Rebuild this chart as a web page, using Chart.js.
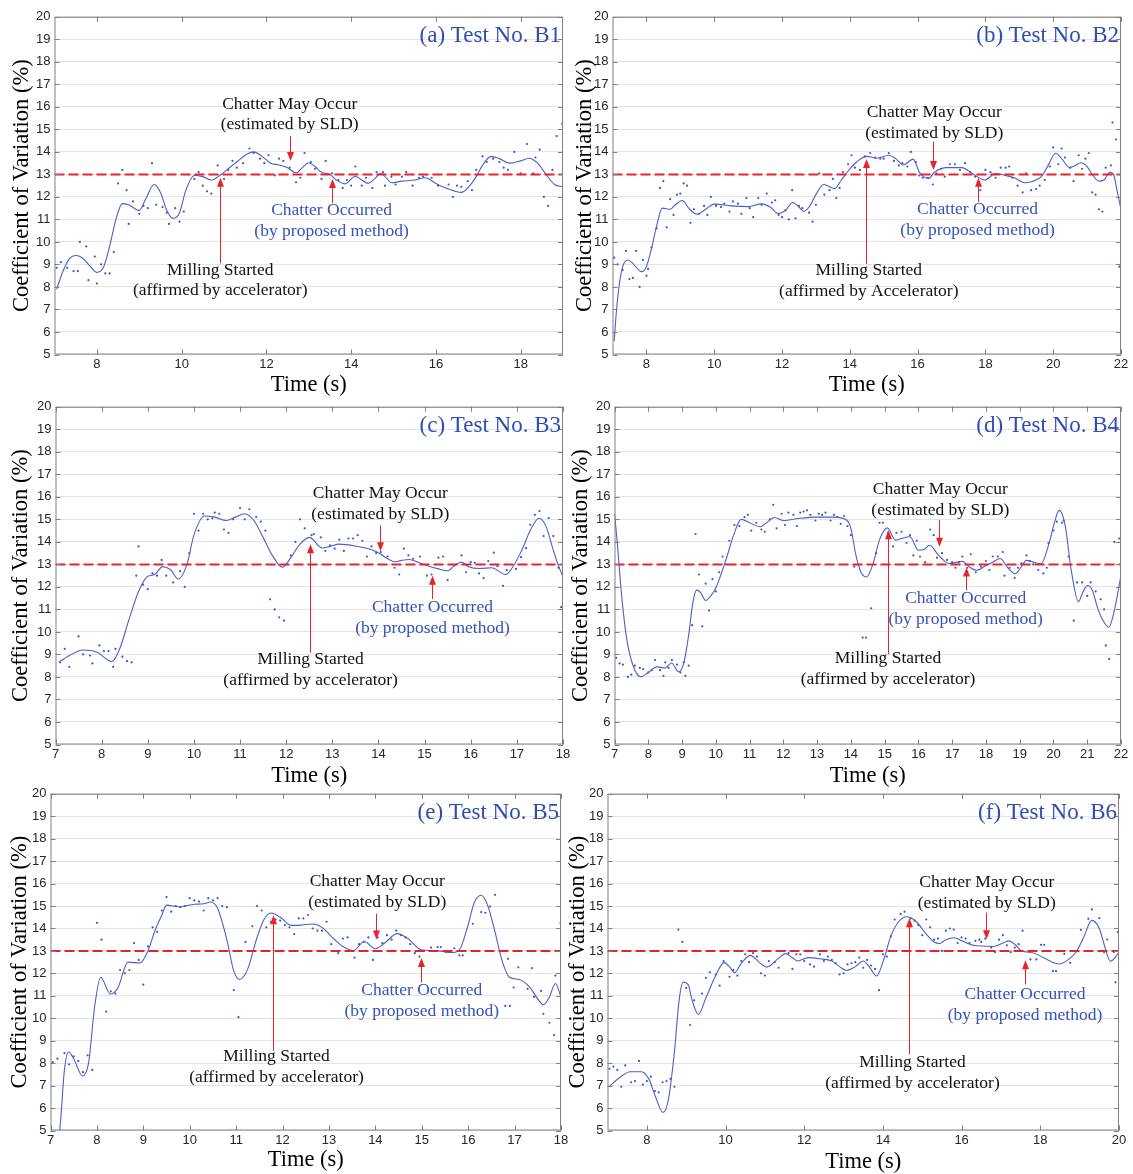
<!DOCTYPE html>
<html>
<head>
<meta charset="utf-8">
<script src="https://cdn.jsdelivr.net/npm/chart.js@4.4.1/dist/chart.umd.min.js"></script>
<style>
  html, body { margin: 0; padding: 0; background: #fff; }
  #page { position: relative; width: 1133px; height: 1174px; overflow: hidden; }
  .panel { position: absolute; }
</style>
</head>
<body>
<div id="page"></div>
<script>
// ---------------- data ----------------
const yTicks = [5, 6, 7, 8, 9, 10, 11, 12, 13, 14, 15, 16, 17, 18, 19, 20];
const threshold = 13;

const xTicksB1 = [8, 10, 12, 14, 16, 18];
const xTicksB2 = [8, 10, 12, 14, 16, 18, 20, 22];
const xTicksB3 = [7, 8, 9, 10, 11, 12, 13, 14, 15, 16, 17, 18];
const xTicksB4 = [7, 8, 9, 10, 11, 12, 13, 14, 15, 16, 17, 18, 19, 20, 21, 22];
const xTicksB5 = [7, 8, 9, 10, 11, 12, 13, 14, 15, 16, 17, 18];
const xTicksB6 = [8, 10, 12, 14, 16, 18, 20];

// smoothed curves [time, cv]
const curveB1 = [[7.05,7.9],[7.2,8.7],[7.35,9.25],[7.5,9.4],[7.65,9.3],[7.85,8.9],[8.0,8.65],[8.15,8.85],[8.3,9.8],[8.45,11.0],[8.6,11.7],[8.75,11.65],[9.0,11.4],[9.15,11.9],[9.35,12.55],[9.5,12.2],[9.65,11.4],[9.8,11.05],[9.95,11.3],[10.1,12.3],[10.3,12.95],[10.5,12.9],[10.7,12.75],[10.9,12.95],[11.1,13.25],[11.3,13.55],[11.5,13.85],[11.7,14.0],[11.9,13.8],[12.1,13.5],[12.3,13.42],[12.5,13.3],[12.7,13.07],[12.85,13.3],[13.0,13.52],[13.15,13.35],[13.3,13.1],[13.5,13.0],[13.65,12.75],[13.85,12.58],[14.1,12.92],[14.25,12.75],[14.4,12.6],[14.55,12.8],[14.7,13.04],[14.85,12.8],[14.95,12.63],[15.2,12.7],[15.5,12.75],[15.75,12.85],[16.0,12.6],[16.3,12.35],[16.6,12.2],[16.8,12.5],[16.95,12.9],[17.1,13.4],[17.3,13.8],[17.5,13.7],[17.75,13.5],[18.0,13.6],[18.2,13.72],[18.4,13.5],[18.6,13.0],[18.8,12.55],[19.0,12.45]];
const curveB2 = [[7.05,5.6],[7.12,7.0],[7.2,8.1],[7.3,8.9],[7.45,9.2],[7.6,9.05],[7.85,8.68],[8.0,8.9],[8.15,9.7],[8.3,10.7],[8.47,11.5],[8.7,11.45],[8.85,11.65],[9.06,11.84],[9.25,11.5],[9.49,11.23],[9.75,11.45],[10.0,11.68],[10.5,11.6],[11.0,11.57],[11.4,11.69],[11.65,11.55],[11.89,11.26],[12.1,11.4],[12.32,11.75],[12.5,11.55],[12.64,11.36],[12.8,11.55],[13.0,12.1],[13.23,12.55],[13.4,12.45],[13.55,12.37],[13.75,12.75],[13.95,13.15],[14.2,13.55],[14.5,13.8],[14.8,13.72],[15.15,13.85],[15.35,13.7],[15.58,13.42],[15.87,13.68],[16.05,13.1],[16.17,12.9],[16.33,12.82],[16.5,13.1],[16.86,13.3],[17.3,13.3],[17.66,13.0],[17.98,12.75],[18.3,13.04],[18.6,12.95],[18.85,12.85],[19.16,12.63],[19.4,12.7],[19.65,12.9],[19.85,13.4],[20.07,13.94],[20.25,13.7],[20.49,13.3],[20.65,13.4],[20.81,13.52],[21.0,13.35],[21.15,13.0],[21.35,12.7],[21.5,12.75],[21.67,13.09],[21.78,13.0],[21.88,12.3],[22.0,11.45]];
const curveB3 = [[7.08,8.67],[7.3,8.95],[7.59,9.2],[7.9,9.1],[8.22,8.68],[8.4,9.3],[8.6,10.6],[8.8,11.8],[9.0,12.47],[9.15,12.55],[9.32,12.9],[9.5,12.75],[9.66,12.35],[9.85,13.0],[10.0,14.3],[10.23,15.15],[10.45,15.1],[10.7,14.95],[10.9,15.1],[11.1,15.25],[11.3,14.95],[11.5,14.2],[11.7,13.4],[11.92,12.87],[12.1,13.3],[12.3,13.9],[12.5,14.2],[12.78,13.73],[12.95,13.8],[13.14,13.9],[13.5,13.82],[13.85,13.65],[14.04,13.47],[14.2,13.25],[14.36,13.12],[14.5,13.18],[14.67,13.22],[14.85,13.1],[15.05,12.95],[15.3,12.8],[15.5,12.72],[15.65,12.95],[15.8,13.1],[15.95,12.9],[16.2,12.82],[16.45,12.85],[16.76,12.55],[16.9,12.85],[17.1,13.6],[17.3,14.55],[17.48,15.05],[17.63,14.7],[17.78,13.7],[17.9,12.95],[18.0,12.45]];
const curveB4 = [[7.0,15.27],[7.08,14.0],[7.2,11.8],[7.35,9.8],[7.55,8.5],[7.78,8.01],[8.0,8.2],[8.26,8.45],[8.5,8.4],[8.69,8.62],[8.9,8.23],[9.05,8.6],[9.2,9.9],[9.32,11.3],[9.44,11.87],[9.55,11.75],[9.7,11.4],[9.85,11.6],[10.0,11.95],[10.3,13.2],[10.55,14.4],[10.75,15.0],[11.0,14.85],[11.31,14.67],[11.5,14.85],[11.74,15.08],[12.0,14.95],[12.5,15.05],[13.0,15.1],[13.5,15.1],[13.87,14.97],[14.0,14.6],[14.15,13.4],[14.3,12.65],[14.46,12.44],[14.65,13.0],[14.85,14.1],[15.08,14.62],[15.32,14.08],[15.5,14.15],[15.75,14.23],[16.0,13.63],[16.15,13.65],[16.33,13.85],[16.6,13.4],[16.92,13.04],[17.1,13.08],[17.3,13.14],[17.5,12.9],[17.72,12.74],[18.0,12.95],[18.2,13.1],[18.42,13.26],[18.65,12.85],[18.87,12.58],[19.05,12.9],[19.2,13.18],[19.4,13.1],[19.63,13.03],[19.88,13.99],[20.0,14.7],[20.17,15.4],[20.35,14.7],[20.52,12.8],[20.74,11.35],[20.88,11.8],[21.01,12.06],[21.15,11.85],[21.3,11.1],[21.45,10.55],[21.64,10.21],[21.78,10.8],[22.0,12.5]];
const curveB5 = [[7.15,4.0],[7.22,5.5],[7.3,7.7],[7.39,8.5],[7.5,8.2],[7.69,7.43],[7.82,8.0],[7.95,10.5],[8.08,11.83],[8.29,11.08],[8.45,11.35],[8.67,12.5],[8.93,12.46],[9.1,13.0],[9.25,13.9],[9.4,14.6],[9.5,15.04],[9.75,14.97],[10.1,15.08],[10.3,15.1],[10.45,15.18],[10.6,14.9],[10.8,13.5],[10.95,12.1],[11.08,11.73],[11.25,12.2],[11.45,13.6],[11.6,14.4],[11.75,14.69],[11.95,14.5],[12.19,14.14],[12.4,14.15],[12.65,14.2],[12.85,14.05],[13.05,13.65],[13.3,13.2],[13.53,13.02],[13.76,13.42],[14.0,13.1],[14.2,13.35],[14.47,13.77],[14.7,13.55],[14.99,13.05],[15.2,13.02],[15.45,12.98],[15.63,12.93],[15.81,13.05],[15.99,14.1],[16.13,15.15],[16.28,15.48],[16.42,15.03],[16.56,13.99],[16.74,12.5],[16.89,11.83],[17.1,11.73],[17.32,11.4],[17.5,10.86],[17.62,10.6],[17.75,10.95],[17.88,11.55],[18.0,10.95]];
const curveB6 = [[7.05,6.97],[7.3,7.35],[7.58,7.62],[7.86,7.62],[8.05,7.3],[8.2,6.6],[8.41,5.8],[8.55,6.4],[8.7,8.5],[8.82,10.8],[8.92,11.61],[9.05,11.5],[9.15,10.8],[9.31,10.17],[9.5,10.9],[9.75,11.9],[9.96,12.48],[10.1,12.3],[10.23,12.03],[10.4,12.45],[10.63,12.8],[10.85,12.5],[11.05,12.28],[11.3,12.6],[11.53,12.88],[11.7,12.7],[11.83,12.55],[12.1,12.7],[12.4,12.65],[12.7,12.55],[12.9,12.3],[13.08,12.13],[13.3,12.3],[13.5,12.55],[13.65,12.3],[13.84,11.88],[14.0,12.5],[14.2,13.65],[14.4,14.3],[14.61,14.52],[14.85,14.3],[15.1,13.75],[15.3,13.4],[15.44,13.33],[15.6,13.5],[15.81,13.59],[16.0,13.45],[16.3,13.25],[16.8,13.2],[17.05,13.35],[17.2,13.45],[17.35,13.3],[17.51,13.02],[17.85,12.9],[18.1,12.68],[18.3,12.5],[18.49,12.42],[18.7,12.6],[18.91,12.95],[19.1,13.6],[19.31,14.36],[19.5,14.0],[19.63,13.24],[19.78,12.54],[19.9,12.7],[20.0,12.95]];

// raw scattered values [time, cv]
const dotsB1 = [[7.05,8.85],[7.15,9.1],[7.3,8.85],[7.45,8.7],[7.55,8.7],[7.6,10.0],[7.75,9.8],[7.8,8.3],[7.95,9.35],[8.0,8.15],[8.1,9.0],[8.2,8.6],[8.3,8.6],[8.4,9.55],[8.5,12.6],[8.6,13.2],[8.7,12.3],[8.75,10.8],[8.85,11.8],[9.0,11.25],[9.1,11.6],[9.2,11.5],[9.3,13.5],[9.4,11.65],[9.55,11.55],[9.65,11.3],[9.7,10.8],[9.85,11.5],[9.95,10.9],[10.05,11.35],[10.3,12.8],[10.4,13.1],[10.5,12.5],[10.6,12.25],[10.7,12.15],[10.85,13.4],[11.0,12.8],[11.1,13.2],[11.2,13.6],[11.3,13.3],[11.45,13.5],[11.6,14.15],[11.7,13.95],[11.85,13.7],[11.95,13.5],[12.05,13.85],[12.2,12.95],[12.3,13.7],[12.4,13.6],[12.55,13.3],[12.7,12.65],[12.8,12.85],[12.9,13.95],[13.05,13.55],[13.15,13.25],[13.3,12.8],[13.4,13.6],[13.55,13.05],[13.7,12.75],[13.8,12.4],[13.9,12.75],[14.0,12.5],[14.1,13.35],[14.25,12.5],[14.35,12.85],[14.5,12.4],[14.6,13.1],[14.75,13.1],[14.8,12.5],[14.95,12.9],[15.05,12.55],[15.2,12.9],[15.3,13.1],[15.45,12.5],[15.6,12.85],[15.7,12.9],[15.9,12.85],[16.05,12.5],[16.3,12.55],[16.4,12.0],[16.5,12.5],[16.6,12.45],[16.75,12.7],[16.85,12.3],[16.95,13.2],[17.1,13.8],[17.2,13.55],[17.35,13.7],[17.5,13.55],[17.6,13.3],[17.7,13.2],[17.85,14.0],[18.0,13.05],[18.15,14.35],[18.3,13.05],[18.35,13.75],[18.45,14.1],[18.55,12.0],[18.65,11.6],[18.75,13.2],[18.85,14.7],[18.98,15.25]];
const dotsB2 = [[7.05,9.3],[7.15,9.0],[7.3,8.75],[7.4,9.6],[7.5,8.35],[7.6,8.4],[7.7,9.6],[7.8,8.0],[7.9,9.2],[8.0,8.5],[8.05,8.8],[8.15,9.75],[8.3,10.6],[8.4,12.4],[8.5,12.7],[8.6,10.65],[8.7,11.9],[8.8,11.2],[8.9,12.1],[9.0,12.15],[9.1,12.6],[9.2,12.5],[9.3,10.85],[9.4,11.45],[9.55,11.25],[9.7,11.6],[9.8,11.2],[9.9,12.0],[10.05,11.6],[10.2,11.55],[10.3,11.7],[10.45,11.35],[10.55,11.8],[10.7,11.7],[10.8,11.25],[10.95,11.95],[11.05,11.5],[11.15,11.1],[11.3,11.95],[11.4,11.65],[11.55,12.15],[11.7,11.75],[11.8,11.85],[11.9,11.2],[12.0,11.1],[12.1,11.4],[12.2,11.0],[12.3,12.3],[12.4,11.05],[12.5,11.6],[12.6,11.5],[12.8,11.3],[12.9,10.9],[13.0,11.65],[13.1,13.05],[13.25,12.1],[13.4,12.3],[13.5,12.8],[13.6,11.95],[13.7,12.4],[13.8,13.1],[13.95,13.45],[14.05,13.85],[14.15,13.3],[14.3,13.2],[14.45,13.8],[14.6,13.95],[14.75,13.75],[14.9,13.7],[15.0,13.7],[15.15,13.95],[15.3,13.6],[15.45,13.4],[15.55,13.5],[15.7,13.35],[15.8,14.0],[15.95,13.55],[16.05,12.95],[16.15,12.85],[16.3,12.85],[16.45,12.55],[16.55,13.05],[16.7,13.25],[16.8,12.9],[16.95,13.45],[17.1,13.45],[17.25,13.2],[17.4,13.5],[17.55,13.1],[17.7,12.9],[17.85,12.3],[18.0,13.2],[18.15,13.1],[18.3,12.85],[18.45,13.3],[18.6,13.3],[18.7,13.35],[18.8,12.85],[18.95,12.5],[19.1,12.2],[19.2,13.05],[19.35,12.3],[19.5,12.35],[19.6,12.5],[19.75,12.75],[19.9,13.35],[20.0,14.2],[20.15,13.45],[20.25,14.15],[20.35,13.75],[20.5,13.3],[20.6,12.7],[20.75,13.85],[20.85,13.25],[20.95,13.7],[21.05,13.95],[21.15,12.2],[21.25,12.1],[21.35,11.45],[21.45,11.35],[21.55,13.3],[21.7,13.4],[21.75,15.3],[21.85,14.55],[21.95,8.9]];
const dotsB3 = [[7.1,8.65],[7.2,9.25],[7.3,8.45],[7.5,9.8],[7.6,9.0],[7.75,8.95],[7.8,8.6],[7.95,9.4],[8.05,9.15],[8.15,9.15],[8.25,8.45],[8.3,9.25],[8.45,8.9],[8.55,8.7],[8.65,8.65],[8.75,12.5],[8.8,13.8],[8.9,12.1],[9.0,11.9],[9.1,12.6],[9.2,12.5],[9.3,13.2],[9.4,12.5],[9.55,12.2],[9.7,12.7],[9.8,12.0],[9.9,13.5],[10.0,15.25],[10.1,14.5],[10.2,15.25],[10.3,15.0],[10.4,15.05],[10.45,15.3],[10.55,15.25],[10.65,14.55],[10.75,14.4],[10.85,15.0],[11.0,15.5],[11.1,15.0],[11.2,15.45],[11.35,15.1],[11.45,14.9],[11.55,14.5],[11.65,11.45],[11.75,11.0],[11.85,10.65],[11.95,10.5],[12.1,13.4],[12.2,14.0],[12.3,15.0],[12.4,14.6],[12.55,14.3],[12.6,14.35],[12.75,14.2],[12.85,13.6],[12.95,13.85],[13.05,13.7],[13.15,14.1],[13.25,13.6],[13.35,14.15],[13.45,14.15],[13.55,14.3],[13.65,14.05],[13.75,13.35],[13.85,13.8],[13.95,13.5],[14.05,13.55],[14.2,13.35],[14.35,12.85],[14.45,12.55],[14.55,13.7],[14.65,13.4],[14.75,13.25],[14.9,13.35],[15.05,12.5],[15.15,12.55],[15.3,13.3],[15.4,13.35],[15.5,12.3],[15.65,12.95],[15.8,13.4],[15.9,12.65],[16.0,13.1],[16.09,13.07],[16.18,12.6],[16.28,12.39],[16.38,13.15],[16.5,13.52],[16.58,12.92],[16.7,12.05],[16.78,12.75],[16.98,12.8],[17.09,13.32],[17.2,13.72],[17.29,14.76],[17.39,15.2],[17.49,15.37],[17.58,14.26],[17.69,15.06],[17.79,14.26],[17.9,12.85],[17.96,11.1],[18.0,12.88]];
const dotsB4 = [[7.05,8.85],[7.15,8.6],[7.25,8.55],[7.4,8.0],[7.5,8.1],[7.6,8.5],[7.75,8.4],[7.85,8.35],[8.0,8.2],[8.1,8.3],[8.2,8.75],[8.35,8.3],[8.45,8.05],[8.5,8.65],[8.6,8.4],[8.7,8.75],[8.85,8.55],[8.95,8.2],[9.05,8.65],[9.1,8.05],[9.2,8.5],[9.3,10.3],[9.4,14.35],[9.5,12.55],[9.6,10.25],[9.7,12.15],[9.8,10.95],[9.9,12.35],[10.0,11.8],[10.1,12.65],[10.2,13.35],[10.3,13.0],[10.4,14.05],[10.55,14.75],[10.7,14.7],[10.85,15.1],[10.95,15.2],[11.05,14.5],[11.2,14.85],[11.35,14.55],[11.45,14.45],[11.6,15.0],[11.7,15.65],[11.8,14.6],[11.95,15.25],[12.05,14.75],[12.15,15.3],[12.3,15.2],[12.4,14.7],[12.5,15.3],[12.6,15.35],[12.7,15.4],[12.8,15.2],[12.95,14.95],[13.05,15.25],[13.15,15.2],[13.25,15.3],[13.4,14.95],[13.5,15.2],[13.6,15.1],[13.7,14.8],[13.8,15.15],[13.9,14.7],[14.0,14.3],[14.1,12.9],[14.35,9.75],[14.45,9.75],[14.6,11.05],[14.75,13.5],[14.85,14.85],[14.95,14.85],[15.1,14.4],[15.25,13.8],[15.35,14.4],[15.5,14.45],[15.65,13.95],[15.75,14.3],[15.85,13.4],[15.95,14.05],[16.05,13.35],[16.2,13.1],[16.35,14.55],[16.45,14.3],[16.55,13.3],[16.7,13.5],[16.85,13.2],[17.0,13.1],[17.1,12.85],[17.2,13.1],[17.3,13.35],[17.45,12.85],[17.55,13.45],[17.7,12.65],[17.85,12.9],[18.0,13.15],[18.1,12.75],[18.2,13.35],[18.35,13.35],[18.5,13.55],[18.55,12.5],[18.7,12.85],[18.85,12.4],[18.95,12.85],[19.05,13.05],[19.2,13.4],[19.3,13.15],[19.4,13.0],[19.55,12.75],[19.7,12.6],[19.8,12.85],[19.85,13.95],[20.0,14.5],[20.1,14.9],[20.25,14.85],[20.3,14.95],[20.45,13.35],[20.6,10.5],[20.7,12.2],[20.85,12.2],[21.0,11.6],[21.1,12.2],[21.25,11.8],[21.4,11.45],[21.5,11.0],[21.55,9.4],[21.65,8.8],[21.8,14.0],[21.95,14.15],[22.0,7.85]];
const dotsB5 = [[7.05,8.05],[7.15,8.2],[7.3,8.45],[7.4,7.95],[7.5,8.3],[7.6,8.1],[7.7,7.6],[7.8,8.35],[7.9,7.7],[8.0,14.25],[8.1,13.5],[8.2,10.3],[8.3,11.2],[8.4,11.1],[8.5,12.15],[8.6,12.0],[8.7,12.15],[8.8,13.35],[8.9,12.6],[9.0,11.5],[9.1,13.2],[9.2,14.05],[9.3,13.85],[9.4,14.8],[9.5,15.4],[9.6,14.75],[9.7,15.0],[9.8,14.95],[9.9,15.0],[10.0,15.35],[10.1,15.25],[10.2,15.2],[10.3,14.8],[10.4,15.35],[10.5,15.25],[10.6,15.35],[10.7,15.0],[10.8,14.95],[10.95,11.25],[11.05,10.05],[11.2,13.4],[11.35,14.1],[11.45,15.0],[11.55,14.8],[11.65,14.05],[11.75,14.3],[11.85,14.4],[11.95,14.35],[12.05,14.15],[12.15,14.05],[12.25,13.75],[12.35,14.45],[12.45,14.45],[12.55,14.6],[12.65,14.0],[12.75,13.9],[12.85,13.9],[12.95,14.3],[13.05,13.3],[13.2,12.9],[13.3,13.55],[13.4,13.6],[13.55,12.7],[13.65,13.3],[13.75,13.4],[13.85,13.6],[13.95,12.6],[14.05,13.6],[14.15,13.35],[14.25,13.7],[14.35,13.5],[14.45,13.9],[14.55,13.7],[14.65,13.6],[14.75,13.3],[14.85,12.9],[14.95,12.75],[15.05,13.0],[15.2,13.15],[15.34,13.17],[15.41,13.17],[15.52,12.95],[15.7,13.12],[15.81,12.8],[15.88,12.8],[16.1,14.21],[16.28,14.73],[16.37,14.7],[16.47,14.98],[16.58,15.5],[16.8,10.55],[16.86,12.65],[16.9,10.55],[16.98,11.37],[17.08,12.27],[17.28,11.31],[17.37,12.23],[17.42,10.95],[17.57,11.22],[17.62,10.2],[17.75,9.8],[17.85,9.25],[17.88,11.9],[17.99,14.23]];
const dotsB6 = [[7.05,7.75],[7.15,7.85],[7.25,7.7],[7.35,6.95],[7.45,7.9],[7.6,7.15],[7.7,7.2],[7.8,8.1],[7.9,7.05],[8.0,7.2],[8.1,7.4],[8.2,6.75],[8.3,6.7],[8.4,7.15],[8.5,7.2],[8.6,7.3],[8.7,6.95],[8.8,13.95],[8.9,13.4],[9.0,11.35],[9.1,9.7],[9.2,10.8],[9.4,11.1],[9.5,11.8],[9.6,12.05],[9.75,11.95],[9.85,11.45],[9.95,12.55],[10.1,11.85],[10.2,12.15],[10.3,11.9],[10.4,12.55],[10.5,12.85],[10.6,12.5],[10.7,12.9],[10.8,12.75],[10.9,12.0],[11.0,11.9],[11.1,12.55],[11.25,12.5],[11.35,12.25],[11.5,13.0],[11.6,12.9],[11.7,12.2],[11.8,12.85],[11.9,12.85],[12.0,12.55],[12.15,12.4],[12.25,12.3],[12.4,12.85],[12.5,12.55],[12.6,12.75],[12.7,12.6],[12.8,12.45],[12.9,11.95],[13.0,12.0],[13.1,12.4],[13.2,12.45],[13.3,12.5],[13.4,12.7],[13.5,12.25],[13.6,12.6],[13.7,12.35],[13.8,12.2],[13.9,11.25],[14.0,12.85],[14.1,12.75],[14.2,13.65],[14.3,14.4],[14.45,14.65],[14.55,14.75],[14.7,14.45],[14.8,14.35],[14.9,14.15],[15.0,13.7],[15.1,14.4],[15.2,14.05],[15.3,13.5],[15.4,13.55],[15.5,13.0],[15.6,13.9],[15.7,14.0],[15.8,13.95],[15.9,13.35],[16.0,13.6],[16.1,13.55],[16.2,13.35],[16.35,13.45],[16.45,13.5],[16.5,13.4],[16.6,13.55],[16.75,13.15],[16.85,12.95],[16.95,13.5],[17.05,13.7],[17.15,13.25],[17.25,12.95],[17.35,13.15],[17.45,13.3],[17.55,13.9],[17.75,12.62],[17.8,13.0],[17.9,12.62],[18.02,13.27],[18.1,13.27],[18.32,12.1],[18.4,12.1],[18.61,12.87],[18.76,12.47],[19.03,13.94],[19.22,14.43],[19.31,14.85],[19.5,14.46],[19.62,12.95],[19.7,13.51],[19.87,12.95],[19.91,11.6],[19.97,13.84]];

// annotations [textX, line1Y, line2Y, arrowX, arrowFromY, arrowToY]
const mayB1 = [12.55, 16.13, 15.2, 12.55, 14.7, 13.6];
const occB1 = [13.54, 11.4, 10.47, 13.54, 11.73, 12.8];
const millB1 = [10.91, 8.75, 7.83, 10.9, 9.05, 12.85];
const mayB2 = [16.49, 15.77, 14.83, 16.45, 14.46, 13.19];
const occB2 = [17.77, 11.45, 10.51, 17.77, 11.78, 12.85];
const millB2 = [14.56, 8.72, 7.8, 14.47, 9.02, 13.68];
const mayB3 = [14.04, 16.14, 15.2, 14.04, 14.73, 13.58];
const occB3 = [15.17, 11.09, 10.17, 15.17, 11.46, 12.5];
const millB3 = [12.53, 8.79, 7.85, 12.52, 9.08, 13.9];
const mayB4 = [16.65, 16.34, 15.39, 16.62, 14.97, 13.78];
const occB4 = [17.4, 11.47, 10.54, 17.4, 11.85, 12.86];
const millB4 = [15.1, 8.82, 7.87, 15.09, 9.01, 14.52];
const mayB5 = [14.04, 16.08, 15.14, 14.02, 14.66, 13.51];
const occB5 = [15.0, 11.23, 10.29, 14.99, 11.6, 12.68];
const millB5 = [11.87, 8.3, 7.36, 11.79, 8.55, 14.59];
const mayB6 = [16.64, 16.05, 15.11, 16.61, 14.71, 13.52];
const occB6 = [17.61, 11.06, 10.12, 17.61, 11.51, 12.58];
const millB6 = [14.75, 8.04, 7.11, 14.67, 8.4, 14.46];

const mayText = ['Chatter May Occur', '(estimated by SLD)'];
const occText = ['Chatter Occurred', '(by proposed method)'];
const millText = ['Milling Started', '(affirmed by accelerator)'];
const millTextB2 = ['Milling Started', '(affirmed by Accelerator)'];

// ---------------- layout ----------------
// plot box [left, top, right, bottom], y-title centre x, x-title centre y
const panels = [
  { title: '(a) Test No. B1', xMin: 7, xMax: 19, xTicks: xTicksB1, curve: curveB1, dots: dotsB1,
    notes: [[mayB1, mayText, 'k'], [occB1, occText, 'b'], [millB1, millText, 'k']], box: [54, 15, 562, 352], yTitleX: 22, xTitleY: 383 },
  { title: '(b) Test No. B2', xMin: 7, xMax: 22, xTicks: xTicksB2, curve: curveB2, dots: dotsB2,
    notes: [[mayB2, mayText, 'k'], [occB2, occText, 'b'], [millB2, millTextB2, 'k']], box: [612, 15, 1120, 352], yTitleX: 585, xTitleY: 383 },
  { title: '(c) Test No. B3', xMin: 7, xMax: 18, xTicks: xTicksB3, curve: curveB3, dots: dotsB3,
    notes: [[mayB3, mayText, 'k'], [occB3, occText, 'b'], [millB3, millText, 'k']], box: [55, 405, 562, 742], yTitleX: 21, xTitleY: 774 },
  { title: '(d) Test No. B4', xMin: 7, xMax: 22, xTicks: xTicksB4, curve: curveB4, dots: dotsB4,
    notes: [[mayB4, mayText, 'k'], [occB4, occText, 'b'], [millB4, millText, 'k']], box: [614, 405, 1120, 742], yTitleX: 581, xTitleY: 774 },
  { title: '(e) Test No. B5', xMin: 7, xMax: 18, xTicks: xTicksB5, curve: curveB5, dots: dotsB5,
    notes: [[mayB5, mayText, 'k'], [occB5, occText, 'b'], [millB5, millText, 'k']], box: [50, 792, 560, 1128], yTitleX: 20, xTitleY: 1158 },
  { title: '(f) Test No. B6', xMin: 7, xMax: 20, xTicks: xTicksB6, curve: curveB6, dots: dotsB6,
    notes: [[mayB6, mayText, 'k'], [occB6, occText, 'b'], [millB6, millText, 'k']], box: [607, 792, 1118, 1128], yTitleX: 578, xTitleY: 1160 }
];

const SERIF = '"Liberation Serif", "Times New Roman", serif';
const SANS = '"Liberation Sans", Arial, sans-serif';
const RED = '#e8222a';
const BLUE_TEXT = '#3452b8';
const CURVE = '#4b5fc8';

const Y_TITLE_SIZE = 22.5, X_TITLE_SIZE = 22.5;
const PAD_TOP = 10, PAD_RIGHT = 14;

function toXY(list) {
  return list.map(p => ({ x: p[0], y: p[1] }));
}

// frame, inward ticks, panel title and annotations
const decorPlugin = {
  id: 'decor',
  afterDatasetsDraw(chart) {
    const { ctx, chartArea: a, scales } = chart;
    const x = scales.x, y = scales.y;
    ctx.save();
    ctx.strokeStyle = '#808080';
    ctx.lineWidth = 1;
    ctx.strokeRect(a.left + 0.5, a.top + 0.5, a.right - a.left - 1, a.bottom - a.top - 1);
    ctx.beginPath();
    x.ticks.forEach(t => {
      const px = Math.round(x.getPixelForValue(t.value)) + 0.5;
      ctx.moveTo(px, a.bottom); ctx.lineTo(px, a.bottom - 5);
      ctx.moveTo(px, a.top); ctx.lineTo(px, a.top + 5);
    });
    y.ticks.forEach(t => {
      const py = Math.round(y.getPixelForValue(t.value)) + 0.5;
      ctx.moveTo(a.left, py); ctx.lineTo(a.left + 5, py);
      ctx.moveTo(a.right, py); ctx.lineTo(a.right - 5, py);
    });
    ctx.stroke();
    ctx.restore();
  },
  afterDraw(chart) {
    const { ctx, chartArea: a, scales } = chart;
    const x = scales.x, y = scales.y;
    const p = chart.config.options.plugins.decor;
    ctx.save();
    // panel title
    ctx.font = '23px ' + SERIF;
    ctx.fillStyle = '#2f4db3';
    ctx.textAlign = 'right';
    ctx.textBaseline = 'middle';
    ctx.fillText(p.title, a.right - 2, a.top + 19);
    // annotations
    p.notes.forEach(([n, lines, tone]) => {
      const [tx, y1, y2, ax, yFrom, yTo] = n;
      ctx.font = '17.5px ' + SERIF;
      ctx.textAlign = 'center';
      ctx.fillStyle = tone === 'b' ? BLUE_TEXT : '#111';
      ctx.fillText(lines[0], x.getPixelForValue(tx), y.getPixelForValue(y1));
      ctx.fillText(lines[1], x.getPixelForValue(tx), y.getPixelForValue(y2));
      const px = Math.round(x.getPixelForValue(ax)) + 0.5;
      const p0 = y.getPixelForValue(yFrom), p1 = y.getPixelForValue(yTo);
      const dir = p1 > p0 ? 1 : -1;
      ctx.strokeStyle = RED;
      ctx.fillStyle = RED;
      ctx.lineWidth = 1;
      ctx.beginPath();
      ctx.moveTo(px, p0);
      ctx.lineTo(px, p1 - dir * 6);
      ctx.stroke();
      ctx.beginPath();
      ctx.moveTo(px, p1);
      ctx.lineTo(px - 3.5, p1 - dir * 9);
      ctx.lineTo(px + 3.5, p1 - dir * 9);
      ctx.closePath();
      ctx.fill();
    });
    ctx.restore();
  }
};

const page = document.getElementById('page');

panels.forEach(panel => {
  const [left, top, right, bottom] = panel.box;
  const yAxisW = left - (panel.yTitleX - Y_TITLE_SIZE * 0.6);
  const xAxisH = panel.xTitleY - bottom + X_TITLE_SIZE * 0.6;
  const cLeft = left - yAxisW;
  const cTop = top - PAD_TOP;
  const cW = yAxisW + (right - left) + PAD_RIGHT;
  const cH = PAD_TOP + (bottom - top) + xAxisH + 2;

  const wrap = document.createElement('div');
  wrap.className = 'panel';
  wrap.style.left = cLeft + 'px';
  wrap.style.top = cTop + 'px';
  wrap.style.width = cW + 'px';
  wrap.style.height = cH + 'px';
  const canvas = document.createElement('canvas');
  canvas.width = Math.round(cW);
  canvas.height = Math.round(cH);
  wrap.appendChild(canvas);
  page.appendChild(wrap);

  new Chart(canvas.getContext('2d'), {
    type: 'line',
    data: {
      datasets: [
        {
          label: 'Threshold',
          data: [{ x: panel.xMin, y: threshold }, { x: panel.xMax, y: threshold }],
          borderColor: RED,
          borderWidth: 2,
          borderDash: [10, 4],
          pointRadius: 0,
          tension: 0
        },
        {
          label: 'Smoothed CV',
          data: toXY(panel.curve),
          borderColor: CURVE,
          borderWidth: 1.1,
          pointRadius: 0,
          cubicInterpolationMode: 'monotone'
        },
        {
          label: 'CV',
          data: toXY(panel.dots),
          showLine: false,
          pointRadius: 1.1,
          pointBorderWidth: 0,
          pointBackgroundColor: '#3e55c2'
        }
      ]
    },
    options: {
      responsive: false,
      animation: false,
      layout: { padding: { top: PAD_TOP, right: PAD_RIGHT, left: 0, bottom: 0 } },
      plugins: {
        legend: { display: false },
        tooltip: { enabled: false },
        decor: { title: panel.title, notes: panel.notes }
      },
      scales: {
        x: {
          type: 'linear',
          min: panel.xMin,
          max: panel.xMax,
          afterBuildTicks: s => { s.ticks = panel.xTicks.map(v => ({ value: v })); },
          afterFit: s => { s.height = xAxisH; },
          grid: { display: false, drawTicks: false },
          border: { display: false },
          ticks: { font: { family: SANS, size: 13 }, color: '#262626', padding: 2, maxRotation: 0, autoSkip: false },
          title: { display: true, text: 'Time (s)', font: { family: SERIF, size: X_TITLE_SIZE }, color: '#000', padding: 0 }
        },
        y: {
          min: 5,
          max: 20,
          afterBuildTicks: s => { s.ticks = yTicks.map(v => ({ value: v })); },
          afterFit: s => { s.width = yAxisW; },
          grid: { color: '#e4e4e4', drawTicks: false },
          border: { display: false },
          ticks: { font: { family: SANS, size: 13 }, color: '#262626', padding: 4, autoSkip: false },
          title: { display: true, text: 'Coefficient of Variation (%)', font: { family: SERIF, size: Y_TITLE_SIZE }, color: '#000', padding: 0 }
        }
      }
    },
    plugins: [decorPlugin]
  });
});
</script>
</body>
</html>
